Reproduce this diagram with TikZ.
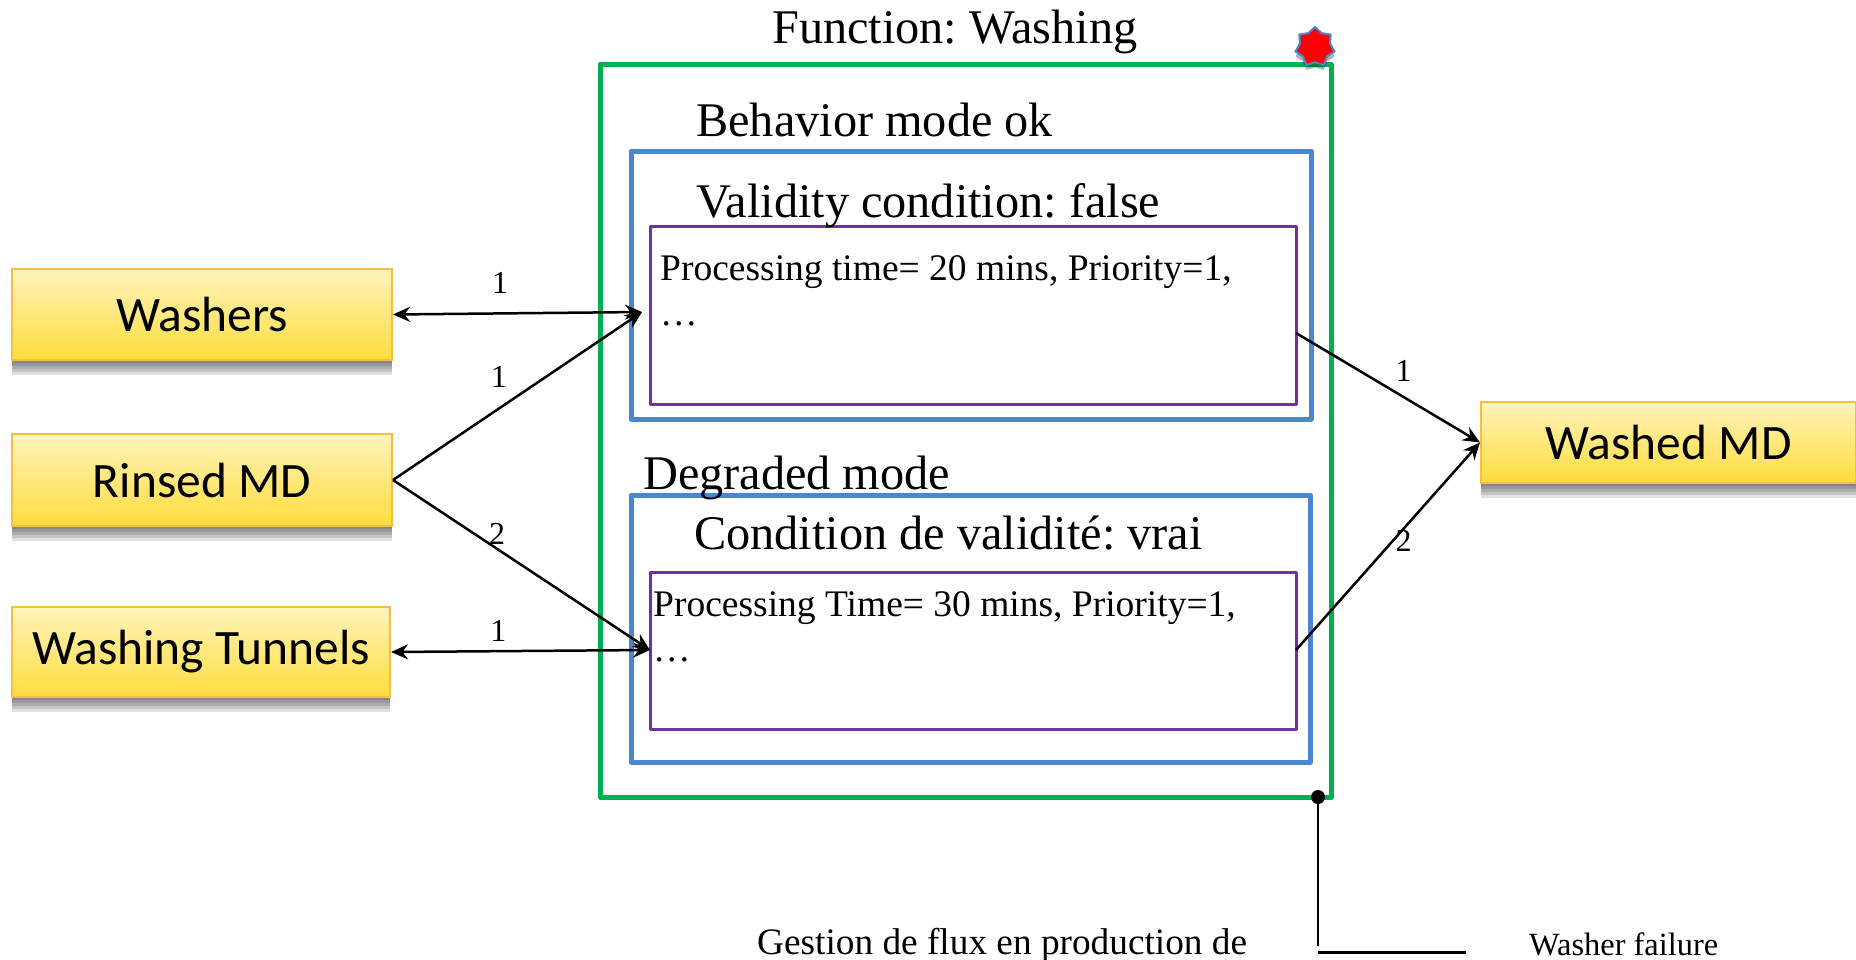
\documentclass[tikz,border=0pt]{standalone}
\usepackage{fontspec}
\setmainfont{Liberation Serif}
\newfontfamily\boxfont{Carlito}
\usetikzlibrary{arrows.meta,shadows,shapes.geometric}
\definecolor{fgreen}{HTML}{00B050}
\definecolor{fblue}{HTML}{4A86D2}
\definecolor{fpurple}{HTML}{7030A0}
\definecolor{rtop}{HTML}{FFF3BC}
\definecolor{rbot}{HTML}{FFDD3C}
\definecolor{redge}{HTML}{F6BE45}
\frenchspacing
\tikzset{%
    >={Stealth[length=17pt,width=15pt]},
    func/.style={draw=fgreen,line width=5pt,line join=round},
    mode/.style={draw=fblue,line width=5pt,line join=round},
    cond/.style={draw=fpurple,line width=3pt,line join=round},
    softshadow/.style={general shadow={shadow xshift=0pt,shadow yshift=#1,fill=black,opacity=.12}},
    res/.style={draw=redge,line width=2pt,top color=rtop,bottom color=rbot,font=\boxfont\fontsize{49.5}{52}\selectfont,
        anchor=north west,inner sep=0pt,
        softshadow=-15pt,softshadow=-12pt,softshadow=-9pt,softshadow=-6pt,softshadow=-3pt},
    big/.style={font=\fontsize{48.3}{50}\selectfont,anchor=base west,inner sep=0pt},
    txt/.style={font=\fontsize{37.5}{46}\selectfont,anchor=base west,inner sep=0pt},
    small/.style={font=\fontsize{32}{34}\selectfont,inner sep=0pt},
    arc/.style={line width=2.5pt}
}
\begin{document}
\begin{tikzpicture}[x=1pt,y=-1pt]
\useasboundingbox (1,0) rectangle (1857,959);
% function and its two modes
\path [func] (601,64) rectangle (1332,797);
\path [mode] (632,151) rectangle (1312,419);
\path [cond] (651,226) rectangle (1297,404);
\path [mode] (632,495) rectangle (1311,762);
\path [cond] (651,572) rectangle (1297,729);
\node [star,star points=7,star point ratio=1.3,minimum size=40pt,inner sep=0pt,fill=red,draw=fblue,line width=2pt,
    drop shadow={shadow xshift=0pt,shadow yshift=-5pt,fill=black,opacity=.3}] (alarm) at (1316,47) {};
%%%%%
\node [big] (title) at (773,43) {Function: Washing};
\node [big] (ok) at (697,136) {Behavior mode ok};
\node [big] (valid1) at (697,217) {Validity condition: false};
\node [big] (degraded) at (644,489) {Degraded mode};
\node [big] (valid2) at (695,549) {Condition de validité: vrai};
\node [txt] (time1) at (661,280) {Processing time= 20 mins, Priority=1,};
\node [txt] (dots1) at (661,325) {…};
\node [txt] (time2) at (654,616) {Processing Time= 30 mins, Priority=1,};
\node [txt] (dots2) at (654,661) {…};
%%%%%
\node [res,minimum width=380pt,minimum height=91pt] (washers) at (12,268) {Washers};
\node [res,minimum width=380pt,minimum height=92pt] (rinsed) at (12,433) {Rinsed MD};
\node [res,minimum width=378pt,minimum height=90pt] (tunnels) at (12,606) {Washing Tunnels};
\node [res,minimum width=375pt,minimum height=81pt] (washed) at (1481,401) {Washed MD};
%%%%%
\coordinate (in1) at (643,312);
\coordinate (in2) at (651,650);
\coordinate (out1) at (1297,333);
\coordinate (out2) at (1297,650);
\coordinate (bend) at (1319,952);
\coordinate (end) at (1467,952);
\path [arc] (washers.east) edge [<->] node[small,pos=.43,above=19pt]{1} (in1)
    (rinsed.east) edge [->] node[small,pos=.425,above=20pt]{1} (in1)
    (rinsed.east) edge [->] node[small,pos=.405,above=3pt]{2} (in2)
    (tunnels.east) edge [<->] node[small,pos=.415,above=8pt]{1} (in2)
    (out1) edge [->] node[small,pos=.585,above=14pt]{1} (washed.west)
    (out2) edge [->] node[small,pos=.585,below=0pt]{2} (washed.west);
\node [circle,fill=black,inner sep=0pt,minimum size=14pt] (fail) at (1319,797) {};
\draw [line width=2.2pt] (fail) -- (1319,946);
\draw [line width=3pt] (bend) -- (end);
\node [font=\fontsize{37.3}{39}\selectfont,anchor=base west,inner sep=0pt] (gestion) at (758,954) {Gestion de flux en production de};
\node [font=\fontsize{32.4}{34}\selectfont,anchor=base west,inner sep=0pt] (failure) at (1530,955) {Washer failure};
\end{tikzpicture}
\end{document}
